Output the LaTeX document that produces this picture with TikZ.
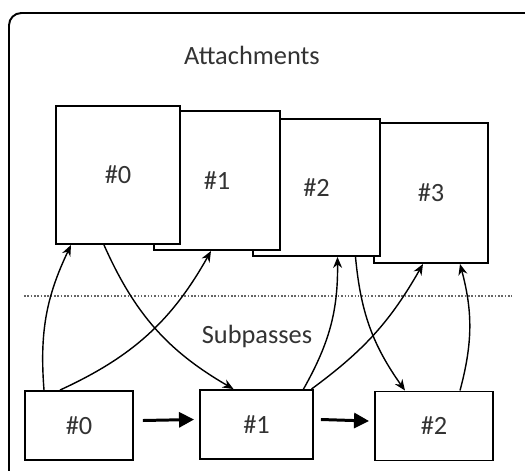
\documentclass[tikz,border=0pt]{standalone}
\usepackage{fontspec}
\setmainfont{Carlito}
\usetikzlibrary{arrows.meta}
\begin{document}
\begin{tikzpicture}[
	every node/.style={font=\fontsize{15}{18}\selectfont, text=black!80},
	att/.style={shape=rectangle, draw=black, fill=white, line width=1.1pt, inner sep=0pt},
	sub/.style={shape=rectangle, draw=black, fill=white, line width=1.1pt, inner sep=0pt, minimum height=1.38cm},
	flow/.style={-{Stealth[length=2.2mm,width=1.8mm]}, line width=0.8pt},
	next/.style={-{Triangle[length=3mm,width=3mm]}, line width=1.7pt}
]
	\clip (0,0) rectangle (10.5,-9.4);
	\fill[white] (0,0) rectangle (10.5,-9.4);
	\draw[line width=1.1pt, rounded corners=7pt] (0.18,-0.26) rectangle (11,-10);

	\node                                                  (atttitle) at (5.04,-1.10) {Attachments};
	\node                                                  (subtitle) at (5.14,-6.72) {Subpasses};
	\draw[black!60, line width=0.9pt, densely dotted] (0.48,-5.92) -- (10.24,-5.92);

	\node[att, minimum width=2.28cm, minimum height=2.80cm] (a3) at (8.62,-3.86) {\#3};
	\node[att, minimum width=2.54cm, minimum height=2.74cm] (a2) at (6.33,-3.75) {\#2};
	\node[att, minimum width=2.52cm, minimum height=2.78cm] (a1) at (4.34,-3.61) {\#1};
	\node[att, minimum width=2.48cm, minimum height=2.76cm] (a0) at (2.36,-3.50) {\#0};

	\node[sub, minimum width=2.16cm] (s0) at (1.58,-8.51) {\#0};
	\node[sub, minimum width=2.26cm] (s1) at (5.13,-8.49) {\#1};
	\node[sub, minimum width=2.36cm] (s2) at (8.68,-8.52) {\#2};

	\path [next] ([xshift=0.18cm,yshift=0.1cm]s0.east) edge ([xshift=-0.1cm,yshift=0.1cm]s1.west);
	\path [next] ([xshift=0.14cm,yshift=0.1cm]s1.east) edge ([xshift=-0.1cm,yshift=0.1cm]s2.west);

	\path [flow] ([xshift=-0.70cm]s0.north) edge[bend left=15]  ([xshift=-0.94cm]a0.south);
	\path [flow] ([xshift=-0.38cm]s0.north) edge[bend right=18] ([xshift=-0.12cm]a1.south);
	\path [flow] ([xshift=-0.28cm]a0.south) edge[bend right=18] ([xshift=-0.46cm]s1.north);
	\path [flow] ([xshift=0.94cm]s1.north)  edge[bend right=15] ([xshift=0.42cm]a2.south);
	\path [flow] ([xshift=1.10cm]s1.north)  edge[bend right=12] ([xshift=-0.16cm]a3.south);
	\path [flow] ([xshift=0.78cm]a2.south)  edge[bend right=15] ([xshift=-0.58cm]s2.north);
	\path [flow] ([xshift=0.52cm]s2.north)  edge[bend right=15] ([xshift=0.58cm]a3.south);
\end{tikzpicture}
\end{document}
